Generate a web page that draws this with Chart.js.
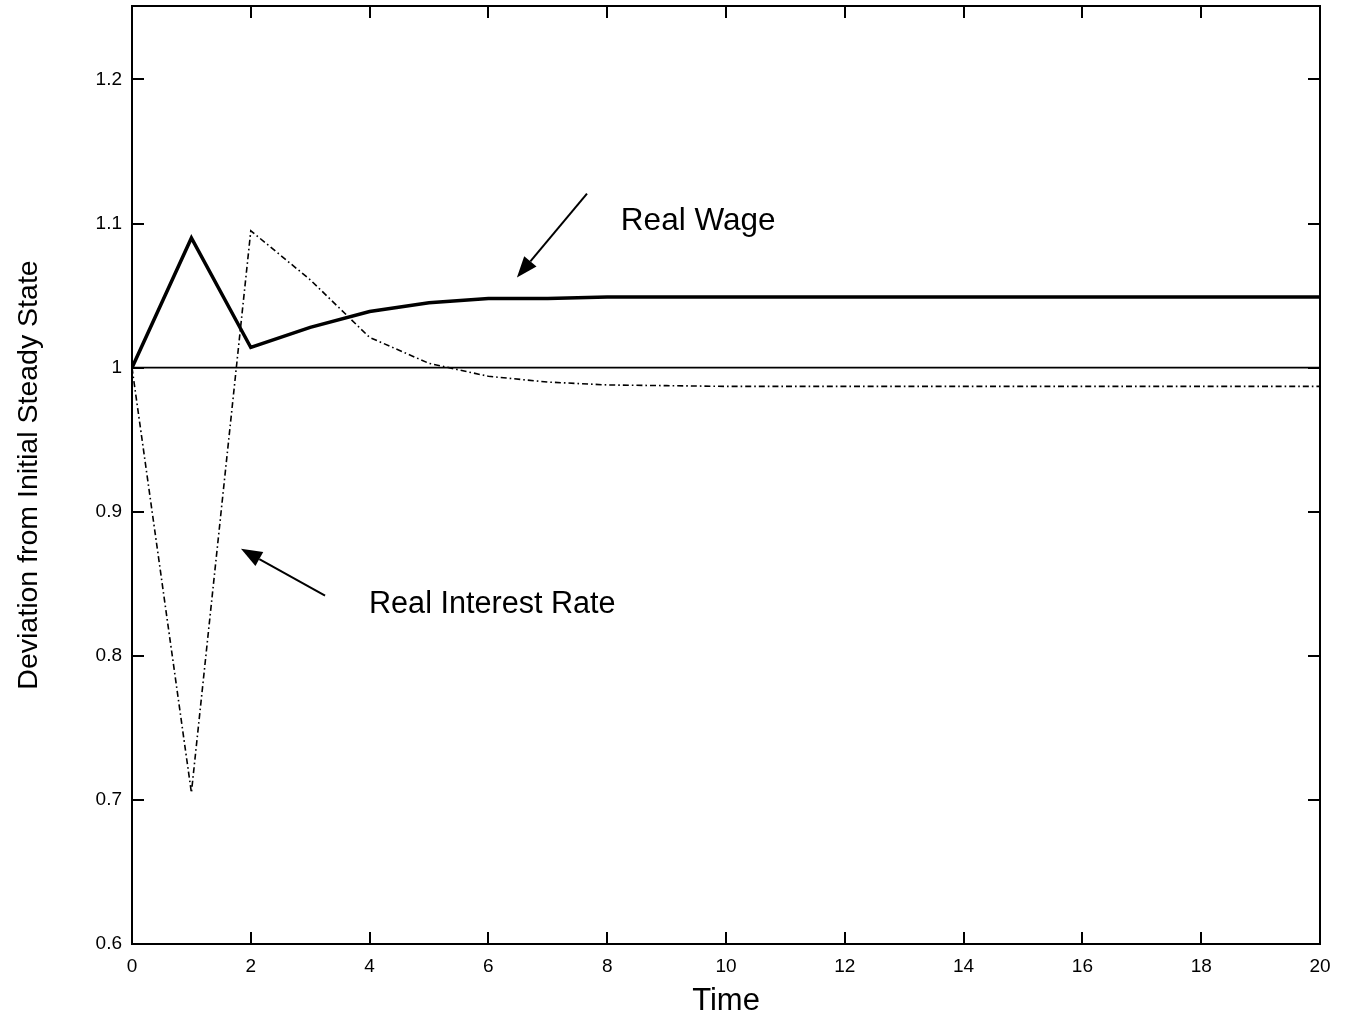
<!DOCTYPE html>
<html>
<head>
<meta charset="utf-8">
<script src="https://cdn.jsdelivr.net/npm/chart.js@4.4.0/dist/chart.umd.min.js"></script>
<style>
  body { margin: 0; background: #fff; }
  #wrap { width: 1345px; height: 1025px; }
</style>
</head>
<body>
<div id="wrap"><canvas id="irfChart" width="1345" height="1025"></canvas></div>
<script>
// Time periods
const timeSteps = [0, 1, 2, 3, 4, 5, 6, 7, 8, 9, 10, 11, 12, 13, 14, 15, 16, 17, 18, 19, 20];
// Real wage (thick solid line)
const realWage = [1.000, 1.090, 1.014, 1.028, 1.039, 1.045, 1.048, 1.048, 1.049, 1.049, 1.049,
                  1.049, 1.049, 1.049, 1.049, 1.049, 1.049, 1.049, 1.049, 1.049, 1.049];
// Real interest rate (dash-dot line)
const realRate = [1.000, 0.705, 1.095, 1.061, 1.021, 1.003, 0.994, 0.990, 0.988, 0.9875, 0.987,
                  0.987, 0.987, 0.987, 0.987, 0.987, 0.987, 0.987, 0.987, 0.987, 0.987];
// Initial steady state reference line
const steadyTimes = [0, 20];
const steadyLevel = [1, 1];

// Tick labels
const xTicks = [0, 2, 4, 6, 8, 10, 12, 14, 16, 18, 20];
const yTicks = [0.6, 0.7, 0.8, 0.9, 1, 1.1, 1.2];

// Text labels with arrows, placed in data units
const notes = [
    { text: 'Real Wage', size: 31.5, at: [8.23, 1.0958], from: [7.66, 1.1208], to: [6.48, 1.0625] },
    { text: 'Real Interest Rate', size: 30.6, at: [3.99, 0.8299], from: [3.25, 0.8417], to: [1.835, 0.8743] }
];

const FONT = "'Liberation Sans', Arial, sans-serif";

function toPoints(xs, ys) {
    return xs.map((t, i) => ({ x: t, y: ys[i] }));
}

// Frame, inward ticks on all four sides, and the arrow notes
const framePlugin = {
    id: 'frame',
    afterDatasetsDraw(chart) {
        const { ctx, chartArea: a, scales: { x, y } } = chart;
        ctx.save();
        ctx.strokeStyle = '#000';
        ctx.lineWidth = 2;
        ctx.strokeRect(a.left, a.top, a.right - a.left, a.bottom - a.top);

        const tl = 12;
        ctx.beginPath();
        xTicks.forEach(v => {
            const px = Math.round(x.getPixelForValue(v));
            ctx.moveTo(px, a.bottom); ctx.lineTo(px, a.bottom - tl);
            ctx.moveTo(px, a.top); ctx.lineTo(px, a.top + tl);
        });
        yTicks.forEach(v => {
            const py = Math.round(y.getPixelForValue(v));
            ctx.moveTo(a.left, py); ctx.lineTo(a.left + tl, py);
            ctx.moveTo(a.right, py); ctx.lineTo(a.right - tl, py);
        });
        ctx.stroke();

        ctx.fillStyle = '#000';
        ctx.textBaseline = 'alphabetic';
        ctx.textAlign = 'left';
        notes.forEach(n => {
            ctx.font = n.size + 'px ' + FONT;
            ctx.fillText(n.text, x.getPixelForValue(n.at[0]), y.getPixelForValue(n.at[1]));
            const x0 = x.getPixelForValue(n.from[0]), y0 = y.getPixelForValue(n.from[1]);
            const x1 = x.getPixelForValue(n.to[0]), y1 = y.getPixelForValue(n.to[1]);
            const ang = Math.atan2(y1 - y0, x1 - x0);
            const hl = 21, hw = 8;
            const bx = x1 - hl * Math.cos(ang), by = y1 - hl * Math.sin(ang);
            ctx.lineWidth = 2;
            ctx.beginPath();
            ctx.moveTo(x0, y0);
            ctx.lineTo(bx, by);
            ctx.stroke();
            ctx.beginPath();
            ctx.moveTo(x1, y1);
            ctx.lineTo(bx + hw * Math.sin(ang), by - hw * Math.cos(ang));
            ctx.lineTo(bx - hw * Math.sin(ang), by + hw * Math.cos(ang));
            ctx.closePath();
            ctx.fill();
        });
        ctx.restore();
    }
};

document.addEventListener("DOMContentLoaded", function() {
    const ctx = document.getElementById('irfChart').getContext('2d');
    new Chart(ctx, {
        type: 'line',
        data: {
            datasets: [
                {
                    label: 'Steady State',
                    data: toPoints(steadyTimes, steadyLevel),
                    borderColor: '#000',
                    borderWidth: 1.6,
                    pointRadius: 0
                },
                {
                    label: 'Real Interest Rate',
                    data: toPoints(timeSteps, realRate),
                    borderColor: '#000',
                    borderWidth: 1.6,
                    borderDash: [6, 3, 1.6, 3],
                    pointRadius: 0
                },
                {
                    label: 'Real Wage',
                    data: toPoints(timeSteps, realWage),
                    borderColor: '#000',
                    borderWidth: 3.5,
                    pointRadius: 0
                }
            ]
        },
        options: {
            responsive: false,
            animation: false,
            events: [],
            layout: { padding: { top: 6, right: 25, left: 0, bottom: 0 } },
            plugins: {
                legend: { display: false },
                tooltip: { enabled: false }
            },
            elements: { line: { tension: 0, borderJoinStyle: 'miter' } },
            scales: {
                x: {
                    type: 'linear',
                    min: 0,
                    max: 20,
                    afterBuildTicks: scale => { scale.ticks = xTicks.map(v => ({ value: v })); },
                    afterFit: scale => {
                        scale.height = 81;
                        scale.paddingLeft = 0;
                        scale.paddingRight = 0;
                    },
                    grid: { display: false, drawTicks: false },
                    border: { display: false },
                    ticks: {
                        padding: 11,
                        maxRotation: 0,
                        color: '#000',
                        font: { family: FONT, size: 19 },
                        callback: v => String(v)
                    },
                    title: {
                        display: true,
                        text: 'Time',
                        color: '#000',
                        font: { family: FONT, size: 31 },
                        padding: { top: 0, bottom: 5 }
                    }
                },
                y: {
                    type: 'linear',
                    min: 0.6,
                    max: 1.251,
                    afterBuildTicks: scale => { scale.ticks = yTicks.map(v => ({ value: v })); },
                    afterFit: scale => {
                        scale.width = 132;
                        scale.paddingTop = 0;
                        scale.paddingBottom = 0;
                    },
                    grid: { display: false, drawTicks: false },
                    border: { display: false },
                    ticks: {
                        padding: 10,
                        color: '#000',
                        font: { family: FONT, size: 19 },
                        callback: v => String(v)
                    },
                    title: {
                        display: true,
                        text: 'Deviation from Initial Steady State',
                        color: '#000',
                        font: { family: FONT, size: 28.5 },
                        padding: { top: 12, bottom: 0 }
                    }
                }
            }
        },
        plugins: [framePlugin]
    });
});
</script>
</body>
</html>
